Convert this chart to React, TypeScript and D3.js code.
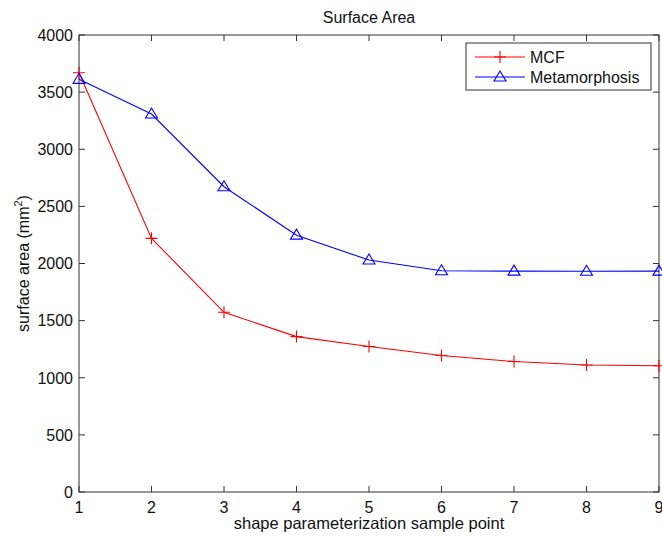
import React, { useRef, useEffect } from "react";
import * as d3 from "d3";

// sample points on x, one value per series
const samplePoints = [1, 2, 3, 4, 5, 6, 7, 8, 9];
const mcfArea = [3670, 2220, 1573, 1360, 1273, 1195, 1142, 1112, 1105];
const metaArea = [3612, 3308, 2672, 2248, 2030, 1937, 1933, 1932, 1933];
const yTicks = [0, 500, 1000, 1500, 2000, 2500, 3000, 3500, 4000];

const FONT = "Liberation Sans, Arial, sans-serif";

export default function App() {
  const svgRef = useRef<SVGSVGElement>(null);

  useEffect(() => {
    const svg = d3.select(svgRef.current);
    svg.selectAll("*").remove();

    const width = 662;
    const height = 536;
    const margin = { top: 35, right: 3, bottom: 44, left: 79 };
    const innerW = width - margin.left - margin.right;
    const innerH = height - margin.top - margin.bottom;
    const axisColor = "#333";

    const g = svg.append("g").attr("transform", `translate(${margin.left},${margin.top})`);

    const x = d3.scaleLinear().domain([1, 9]).range([0, innerW]);
    const y = d3.scaleLinear().domain([0, 4000]).range([innerH, 0]);

    const tick = 6;

    // box + ticks on all four sides (pointing inwards)
    g.append("rect")
      .attr("width", innerW)
      .attr("height", innerH)
      .attr("fill", "none")
      .attr("stroke", axisColor)
      .attr("stroke-width", 1);

    samplePoints.forEach((v) => {
      g.append("line").attr("x1", x(v)).attr("x2", x(v)).attr("y1", innerH).attr("y2", innerH - tick).attr("stroke", axisColor);
      g.append("line").attr("x1", x(v)).attr("x2", x(v)).attr("y1", 0).attr("y2", tick).attr("stroke", axisColor);
      g.append("text")
        .attr("x", x(v))
        .attr("y", innerH + 20.5)
        .attr("text-anchor", "middle")
        .attr("font-family", FONT)
        .attr("font-size", 16)
        .attr("fill", "#111")
        .text(v);
    });

    yTicks.forEach((v) => {
      g.append("line").attr("x1", 0).attr("x2", tick).attr("y1", y(v)).attr("y2", y(v)).attr("stroke", axisColor);
      g.append("line").attr("x1", innerW).attr("x2", innerW - tick).attr("y1", y(v)).attr("y2", y(v)).attr("stroke", axisColor);
      g.append("text")
        .attr("x", -6)
        .attr("y", y(v))
        .attr("dy", "0.36em")
        .attr("text-anchor", "end")
        .attr("font-family", FONT)
        .attr("font-size", 16)
        .attr("fill", "#111")
        .text(v);
    });

    // title + axis labels
    svg.append("text")
      .attr("x", margin.left + innerW / 2)
      .attr("y", 23)
      .attr("text-anchor", "middle")
      .attr("font-family", FONT)
      .attr("font-size", 16)
      .attr("fill", "#111")
      .text("Surface Area");

    svg.append("text")
      .attr("x", margin.left + innerW / 2)
      .attr("y", 529)
      .attr("text-anchor", "middle")
      .attr("font-family", FONT)
      .attr("font-size", 16.5)
      .attr("fill", "#111")
      .text("shape parameterization sample point");

    const yl = svg.append("text")
      .attr("transform", `translate(29,${margin.top + innerH / 2}) rotate(-90)`)
      .attr("text-anchor", "middle")
      .attr("font-family", FONT)
      .attr("font-size", 16)
      .attr("fill", "#111");
    yl.append("tspan").text("surface area (mm");
    yl.append("tspan").attr("font-size", 11).attr("dy", -7).text("2");
    yl.append("tspan").attr("dy", 7).text(")");

    const series = [
      { name: "MCF", values: mcfArea, color: "#ff0000", marker: "plus" },
      { name: "Metamorphosis", values: metaArea, color: "#0000ff", marker: "tri" },
    ];

    const line = d3.line<number>().x((_, i) => x(samplePoints[i])).y((d) => y(d));

    const drawMarker = (sel: any, kind: string, cx: number, cy: number, color: string) => {
      if (kind === "plus") {
        sel.append("path")
          .attr("d", `M${cx - 6},${cy}H${cx + 6}M${cx},${cy - 6}V${cy + 6}`)
          .attr("stroke", color)
          .attr("stroke-width", 1.1)
          .attr("fill", "none");
      } else {
        sel.append("path")
          .attr("d", `M${cx},${cy - 6}L${cx + 6},${cy + 4}L${cx - 6},${cy + 4}Z`)
          .attr("stroke", color)
          .attr("stroke-width", 1.1)
          .attr("fill", "none");
      }
    };

    series.forEach((s) => {
      g.append("path")
        .datum(s.values)
        .attr("fill", "none")
        .attr("stroke", s.color)
        .attr("stroke-width", 1.1)
        .attr("d", line);
      s.values.forEach((v, i) => drawMarker(g, s.marker, x(samplePoints[i]), y(v), s.color));
    });

    // legend
    const lg = svg.append("g");
    lg.append("rect")
      .attr("x", 466)
      .attr("y", 43)
      .attr("width", 185)
      .attr("height", 47)
      .attr("fill", "#fff")
      .attr("stroke", axisColor);
    series.forEach((s, i) => {
      const ly = 57 + i * 20;
      lg.append("line").attr("x1", 475).attr("x2", 525).attr("y1", ly).attr("y2", ly).attr("stroke", s.color).attr("stroke-width", 1.1);
      drawMarker(lg, s.marker, 500, ly, s.color);
      lg.append("text")
        .attr("x", 530)
        .attr("y", ly)
        .attr("dy", "0.36em")
        .attr("font-family", FONT)
        .attr("font-size", 16)
        .attr("fill", "#111")
        .text(s.name);
    });
  }, []);

  return (
    <svg
      ref={svgRef}
      width={662}
      height={536}
      style={{ position: "absolute", left: 0, top: 0, background: "#fff" }}
    />
  );
}
